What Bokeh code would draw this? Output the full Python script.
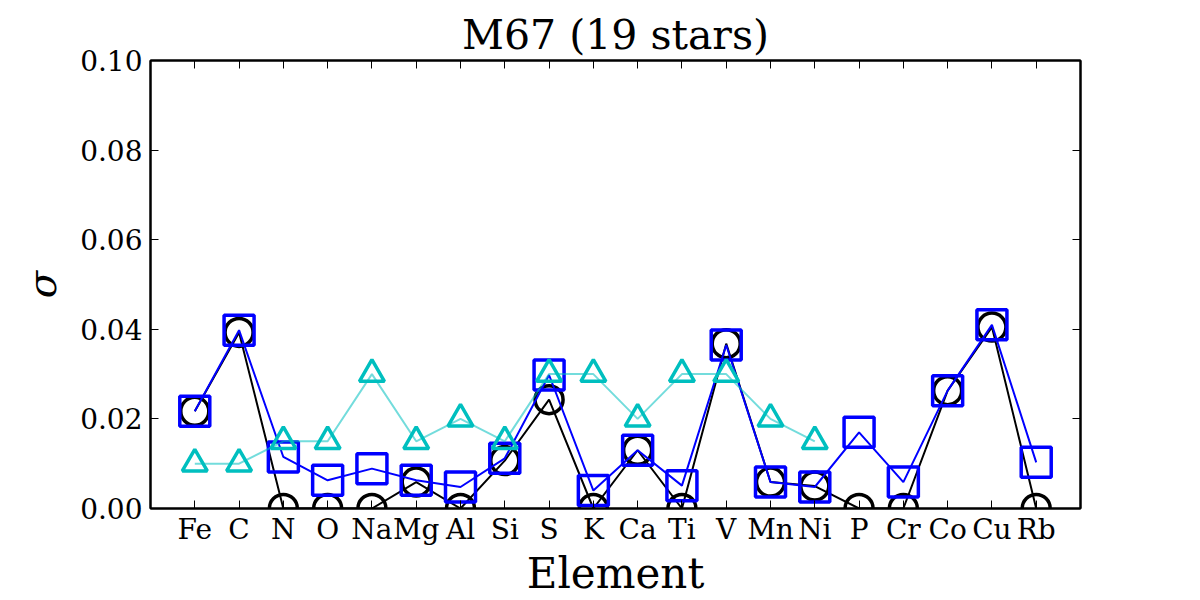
from bokeh.plotting import figure
from bokeh.models import (FactorRange, Range1d, CategoricalAxis, LinearAxis, FixedTicker,
                          PrintfTickFormatter, ColumnDataSource, CustomJSTickFormatter)
from bokeh.embed import file_html
from bokeh.resources import INLINE

elements = ["Fe", "C", "N", "O", "Na", "Mg", "Al", "Si", "S", "K",
            "Ca", "Ti", "V", "Mn", "Ni", "P", "Cr", "Co", "Cu", "Rb"]

sigma_circles = [0.0217, 0.0393, 0.0, 0.0, 0.0, 0.0059, 0.0, 0.0107, 0.0243, 0.0,
                 0.0130, 0.0, 0.0368, 0.0059, 0.0050, 0.0, 0.0, 0.0263, 0.0405, 0.0]
sigma_squares = [0.0217, 0.0398, 0.0115, 0.0063, 0.0089, 0.0063, 0.0048, 0.0112, 0.0298, 0.0040,
                 0.0130, 0.0051, 0.0365, 0.0059, 0.0048, 0.0170, 0.0059, 0.0263, 0.0410, 0.0103]
tri_elements = elements[:15]
sigma_triangles = [0.010, 0.010, 0.015, 0.015, 0.030, 0.015, 0.020, 0.015, 0.030, 0.030,
                   0.020, 0.030, 0.030, 0.020, 0.015]

y_ticks = [0.0, 0.02, 0.04, 0.06, 0.08, 0.10]

FONT = "DejaVu Serif"

p = figure(width=1200, height=600, output_backend="svg", toolbar_location=None,
           x_range=FactorRange(factors=elements, range_padding=0.5, range_padding_units="absolute"),
           y_range=Range1d(0, 0.1),
           min_border_left=150, min_border_right=120, min_border_top=60, min_border_bottom=92,
           title="M67 (19 stars)")

p.title.align = "center"
p.title.text_font = FONT
p.title.text_font_size = "41px"
p.title.text_font_style = "normal"
p.title.text_color = "black"
p.title.standoff = 4

p.grid.visible = False
p.outline_line_color = "black"
p.outline_line_width = 2
p.background_fill_color = "white"
p.border_fill_color = "white"

# bottom axis
xa = p.xaxis[0]
xa.axis_label = "Element"
xa.axis_label_text_font = FONT
xa.axis_label_text_font_size = "42px"
xa.axis_label_text_font_style = "normal"
xa.axis_label_text_color = "black"
xa.axis_label_standoff = 0
xa.major_label_text_font = FONT
xa.major_label_text_font_size = "28px"
xa.major_label_text_color = "black"
xa.major_label_standoff = 4
xa.major_tick_in = 8
xa.major_tick_out = 0
xa.major_tick_line_color = "black"
xa.axis_line_width = 2
xa.axis_line_color = "black"

ya = p.yaxis[0]
ya.axis_label = "σ"
ya.axis_label_text_font = FONT
ya.axis_label_text_font_size = "40px"
ya.axis_label_text_font_style = "italic"
ya.axis_label_text_color = "black"
ya.axis_label_standoff = 12
ya.ticker = FixedTicker(ticks=y_ticks)
ya.formatter = PrintfTickFormatter(format="%.2f")
ya.major_label_text_font = FONT
ya.major_label_text_font_size = "28px"
ya.major_label_text_color = "black"
ya.major_label_standoff = 8
ya.major_tick_in = 8
ya.major_tick_out = 0
ya.major_tick_line_color = "black"
ya.minor_tick_in = 0
ya.minor_tick_out = 0
ya.axis_line_width = 2
ya.axis_line_color = "black"

blank = CustomJSTickFormatter(code="return ''")
top = CategoricalAxis(formatter=blank, major_label_standoff=0,
                      major_tick_in=8, major_tick_out=0, axis_line_width=2,
                      axis_line_color="black", major_tick_line_color="black")
p.add_layout(top, "above")
right = LinearAxis(ticker=FixedTicker(ticks=y_ticks), formatter=blank,
                   major_label_standoff=0, major_tick_in=8, major_tick_out=0,
                   minor_tick_in=0, minor_tick_out=0, axis_line_width=2,
                   axis_line_color="black", major_tick_line_color="black")
p.add_layout(right, "right")

src_c = ColumnDataSource(dict(x=elements, y=sigma_circles))
src_s = ColumnDataSource(dict(x=elements, y=sigma_squares))
src_t = ColumnDataSource(dict(x=tri_elements, y=sigma_triangles))

p.line("x", "y", source=src_c, line_color="black", line_width=2)
p.scatter("x", "y", source=src_c, marker="circle", size=28, fill_color=None,
          line_color="black", line_width=3.5)

p.line("x", "y", source=src_s, line_color="#0000ff", line_width=2)
p.scatter("x", "y", source=src_s, marker="square", size=30, fill_color=None,
          line_color="#0000ff", line_width=3.5)

p.line("x", "y", source=src_t, line_color="#00bfbf", line_alpha=0.55, line_width=2)
p.scatter("x", "y", source=src_t, marker="triangle", size=25, fill_color=None,
          line_color="#00bfbf", line_width=3.5)

open("out.html", "w").write(file_html(p, INLINE))
